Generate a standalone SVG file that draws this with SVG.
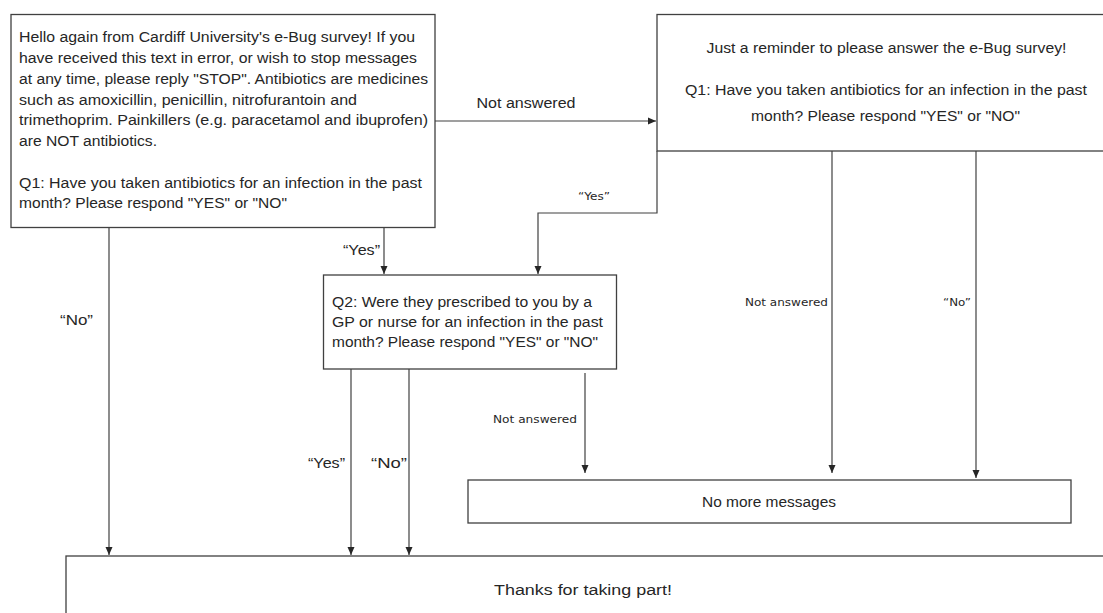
<svg xmlns="http://www.w3.org/2000/svg" width="1103" height="613" viewBox="0 0 1103 613">
<style>
.box{fill:#fff;stroke:#404040;stroke-width:1.3}
.t{font-family:"Liberation Sans",Arial,sans-serif;font-size:15.5px;fill:#262626}
.s{font-family:"DejaVu Sans","Liberation Sans",sans-serif;font-size:11px;fill:#262626}
.c{fill:none;stroke:#404040;stroke-width:1.2}
</style>
<defs>
<marker id="ah" markerUnits="userSpaceOnUse" markerWidth="8" markerHeight="8" refX="8" refY="4" orient="auto">
<path d="M0,0.5 L8,4 L0,7.5 z" fill="#262626"/>
</marker>
</defs>
<rect width="1103" height="613" fill="#fff"/>
<g id="connectors">
<path class="c" d="M435 121 H656" marker-end="url(#ah)"/>
<path class="c" d="M657 151 V213 H538 V274" marker-end="url(#ah)"/>
<path class="c" d="M384 228 V274" marker-end="url(#ah)"/>
<path class="c" d="M109 228 V555" marker-end="url(#ah)"/>
<path class="c" d="M351 369 V555" marker-end="url(#ah)"/>
<path class="c" d="M409 369 V555" marker-end="url(#ah)"/>
<path class="c" d="M585 373 V473" marker-end="url(#ah)"/>
<path class="c" d="M832 151 V473" marker-end="url(#ah)"/>
<path class="c" d="M976 151 V478" marker-end="url(#ah)"/>
<text class="t" x="476.5" y="108" textLength="99" lengthAdjust="spacingAndGlyphs">Not answered</text>
<text class="s" x="578" y="200" textLength="32" lengthAdjust="spacingAndGlyphs">“Yes”</text>
<text class="t" x="343" y="255" textLength="37" lengthAdjust="spacingAndGlyphs">“Yes”</text>
<text class="t" x="60" y="325" textLength="33" lengthAdjust="spacingAndGlyphs">“No”</text>
<text class="s" x="745" y="306" textLength="83" lengthAdjust="spacingAndGlyphs">Not answered</text>
<text class="s" x="943" y="306" textLength="28" lengthAdjust="spacingAndGlyphs">“No”</text>
<text class="s" x="493" y="423" textLength="84" lengthAdjust="spacingAndGlyphs">Not answered</text>
<text class="t" x="308" y="468" textLength="37" lengthAdjust="spacingAndGlyphs">“Yes”</text>
<text class="t" x="371" y="468" textLength="36" lengthAdjust="spacingAndGlyphs">“No”</text>
</g>
<g id="node-intro">
<rect class="box" x="11" y="14.5" width="424" height="213"/>
<text class="t" x="19" y="42" textLength="396" lengthAdjust="spacingAndGlyphs">Hello again from Cardiff University's e-Bug survey! If you</text>
<text class="t" x="19" y="63" textLength="398" lengthAdjust="spacingAndGlyphs">have received this text in error, or wish to stop messages</text>
<text class="t" x="19" y="84" textLength="409" lengthAdjust="spacingAndGlyphs">at any time, please reply "STOP". Antibiotics are medicines</text>
<text class="t" x="19" y="104.5" textLength="338" lengthAdjust="spacingAndGlyphs">such as amoxicillin, penicillin, nitrofurantoin and</text>
<text class="t" x="19" y="125" textLength="409" lengthAdjust="spacingAndGlyphs">trimethoprim. Painkillers (e.g. paracetamol and ibuprofen)</text>
<text class="t" x="19" y="146" textLength="138" lengthAdjust="spacingAndGlyphs">are NOT antibiotics.</text>
<text class="t" x="19" y="187.5" textLength="403" lengthAdjust="spacingAndGlyphs">Q1: Have you taken antibiotics for an infection in the past</text>
<text class="t" x="19" y="208" textLength="268" lengthAdjust="spacingAndGlyphs">month? Please respond "YES" or "NO"</text>
</g>
<g id="node-reminder">
<rect class="box" x="657" y="14.5" width="460" height="136.5"/>
<text class="t" x="706.5" y="53" textLength="360" lengthAdjust="spacingAndGlyphs">Just a reminder to please answer the e-Bug survey!</text>
<text class="t" x="685" y="95" textLength="402" lengthAdjust="spacingAndGlyphs">Q1: Have you taken antibiotics for an infection in the past</text>
<text class="t" x="751" y="121" textLength="269" lengthAdjust="spacingAndGlyphs">month? Please respond "YES" or "NO"</text>
</g>
<g id="node-q2">
<rect class="box" x="323.5" y="275" width="293" height="94"/>
<text class="t" x="332" y="307" textLength="260" lengthAdjust="spacingAndGlyphs">Q2: Were they prescribed to you by a</text>
<text class="t" x="332" y="327" textLength="271" lengthAdjust="spacingAndGlyphs">GP or nurse for an infection in the past</text>
<text class="t" x="332" y="347" textLength="266" lengthAdjust="spacingAndGlyphs">month? Please respond "YES" or "NO"</text>
</g>
<g id="node-nomore">
<rect class="box" x="468" y="480" width="603" height="43"/>
<text class="t" x="702" y="507" textLength="134" lengthAdjust="spacingAndGlyphs">No more messages</text>
</g>
<g id="node-thanks">
<rect class="box" x="66" y="556" width="1060" height="80"/>
<text class="t" x="494" y="595" textLength="178" lengthAdjust="spacingAndGlyphs">Thanks for taking part!</text>
</g>
</svg>
